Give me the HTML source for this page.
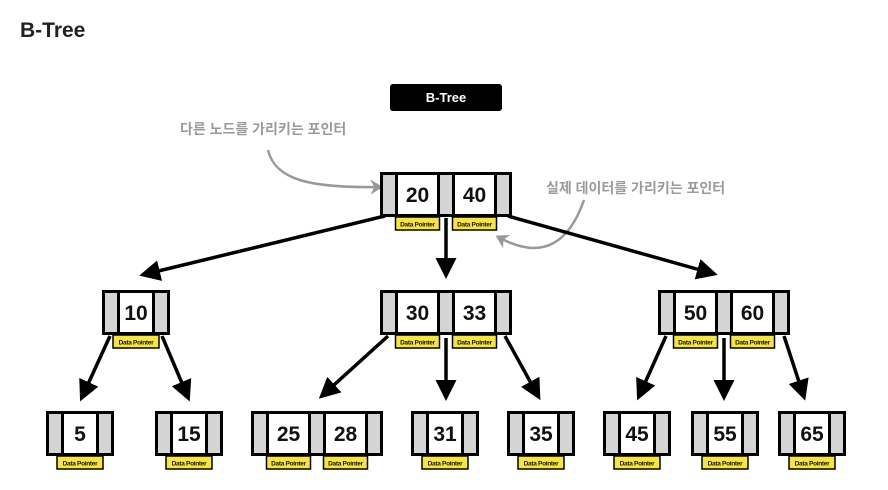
<!DOCTYPE html>
<html><head><meta charset="utf-8"><style>
body{margin:0;background:#fff;width:888px;height:490px;overflow:hidden}
svg{display:block}
.k{font-family:"Liberation Sans",sans-serif;font-weight:bold;font-size:21px;text-anchor:middle;fill:#111}
.dp{font-family:"Liberation Sans",sans-serif;font-weight:bold;font-size:6.5px;text-anchor:middle;fill:#111;letter-spacing:-0.3px}
.g{fill:#d4d4d4}.w{fill:#fff}
.ann{font-family:"Liberation Sans","Noto Sans CJK KR",sans-serif;font-weight:bold;font-size:14px;fill:#9a9a9a}
</style></head><body>
<svg width="888" height="490" viewBox="0 0 888 490">
<defs>
<marker id="ah" markerWidth="6" markerHeight="6" refX="4" refY="3" orient="auto" markerUnits="strokeWidth"><path d="M0,0 L6,3 L0,6 z" fill="#000"/></marker>
<marker id="gh" markerWidth="5" markerHeight="6" refX="3" refY="3" orient="auto" markerUnits="strokeWidth"><path d="M0,0 L5,3 L0,6 L1.5,3 z" fill="#999"/></marker>
<g id="dbl">
<rect x="0" y="0" width="132" height="45" fill="#000"/>
<rect class="g" x="3" y="3" width="12" height="39"/><rect class="w" x="18" y="3" width="39" height="39"/>
<rect class="g" x="60" y="3" width="12" height="39"/><rect class="w" x="75" y="3" width="39" height="39"/>
<rect class="g" x="117" y="3" width="12" height="39"/>
<rect x="15.5" y="45" width="44" height="13" fill="#f7e53c" stroke="#000" stroke-width="1.5"/>
<rect x="72.5" y="45" width="44" height="13" fill="#f7e53c" stroke="#000" stroke-width="1.5"/>
<text class="dp" x="37.5" y="54.5">Data Pointer</text><text class="dp" x="94.5" y="54.5">Data Pointer</text>
</g>
<g id="sgl">
<rect x="0" y="0" width="68" height="45" fill="#000"/>
<rect class="g" x="3" y="3" width="12" height="39"/><rect class="w" x="18" y="3" width="32" height="39"/>
<rect class="g" x="53" y="3" width="12" height="39"/>
<rect x="11" y="45" width="46" height="13" fill="#f7e53c" stroke="#000" stroke-width="1.5"/>
<text class="dp" x="34" y="54.5">Data Pointer</text>
</g>
</defs>
<text x="20" y="37" style="font-family:'Liberation Sans',sans-serif;font-weight:bold;font-size:21px;fill:#222">B-Tree</text>
<rect x="390" y="84" width="112" height="27" rx="3" fill="#000"/>
<text x="446" y="102" style="font-family:'Liberation Sans',sans-serif;font-weight:bold;font-size:13px;fill:#fff;text-anchor:middle">B-Tree</text>

<text class="ann" x="180" y="134">다른 노드를 가리키는 포인터</text>
<text class="ann" x="546" y="193">실제 데이터를 가리키는 포인터</text>
<path d="M268,150 C275,180 310,188 378,187" stroke="#999" stroke-width="2.5" fill="none" marker-end="url(#gh)"/>
<path d="M584,200 C570,240 545,262 500,238" stroke="#999" stroke-width="2.5" fill="none" marker-end="url(#gh)"/>

<g stroke="#000" stroke-width="3.5" fill="none" marker-end="url(#ah)">
<line x1="385" y1="216" x2="146" y2="274"/>
<line x1="446" y1="218" x2="446" y2="272"/>
<line x1="508" y1="216" x2="711" y2="273"/>
<line x1="110" y1="336" x2="83" y2="395"/>
<line x1="162" y1="336" x2="187" y2="395"/>
<line x1="388" y1="336" x2="324" y2="394"/>
<line x1="446" y1="338" x2="446" y2="394"/>
<line x1="505" y1="336" x2="537" y2="394"/>
<line x1="666" y1="336" x2="640" y2="394"/>
<line x1="724" y1="338" x2="724" y2="394"/>
<line x1="784" y1="336" x2="803" y2="394"/>
</g>

<use href="#dbl" x="380" y="172"/>
<text class="k" x="417.5" y="202">20</text><text class="k" x="474.5" y="202">40</text>

<use href="#sgl" x="102" y="290"/><text class="k" x="136" y="320">10</text>
<use href="#dbl" x="380" y="290"/>
<text class="k" x="417.5" y="320">30</text><text class="k" x="474.5" y="320">33</text>
<use href="#dbl" x="658" y="290"/>
<text class="k" x="695.5" y="320">50</text><text class="k" x="752.5" y="320">60</text>

<use href="#sgl" x="46" y="411"/><text class="k" x="80" y="441">5</text>
<use href="#sgl" x="155" y="411"/><text class="k" x="189" y="441">15</text>
<use href="#dbl" x="251" y="411"/>
<text class="k" x="288.5" y="441">25</text><text class="k" x="345.5" y="441">28</text>
<use href="#sgl" x="411" y="411"/><text class="k" x="445" y="441">31</text>
<use href="#sgl" x="507" y="411"/><text class="k" x="541" y="441">35</text>
<use href="#sgl" x="603" y="411"/><text class="k" x="637" y="441">45</text>
<use href="#sgl" x="691" y="411"/><text class="k" x="725" y="441">55</text>
<use href="#sgl" x="778" y="411"/><text class="k" x="812" y="441">65</text>
</svg>
</body></html>
